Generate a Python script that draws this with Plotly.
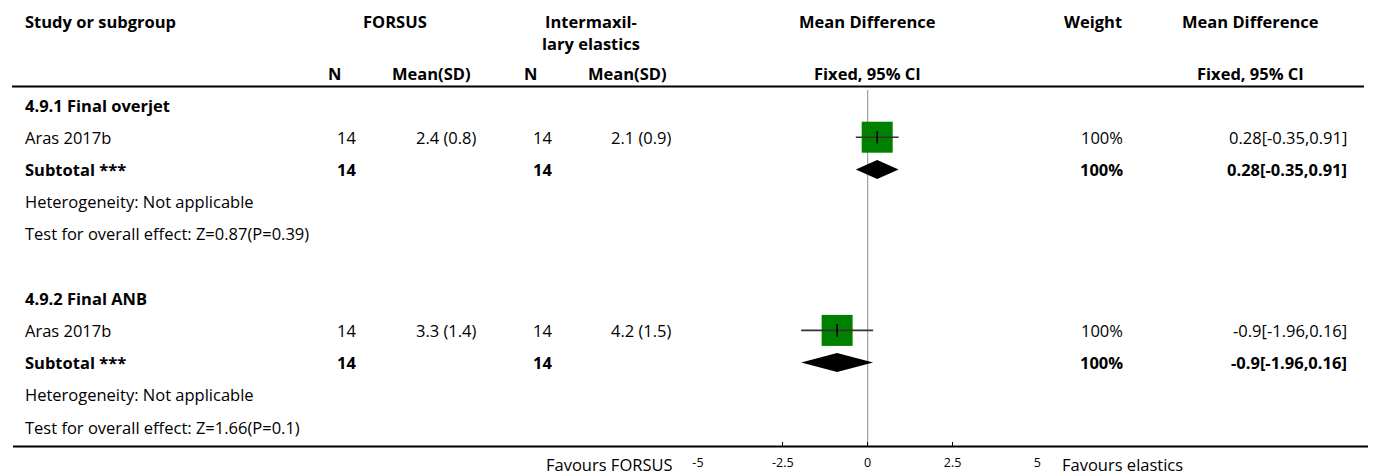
import plotly.graph_objects as go

# ---------------- data ----------------
group_titles = ["4.9.1 Final overjet", "4.9.2 Final ANB"]
study_names = ["Aras 2017b", "Aras 2017b"]
n_forsus = [14, 14]
mean_forsus = [2.4, 3.3]
sd_forsus = [0.8, 1.4]
n_elastics = [14, 14]
mean_elastics = [2.1, 4.2]
sd_elastics = [0.9, 1.5]
md = [0.28, -0.9]
ci_lo = [-0.35, -1.96]
ci_hi = [0.91, 0.16]
weights = [100, 100]
sub_n_forsus = [14, 14]
sub_n_elastics = [14, 14]
sub_md = [0.28, -0.9]
sub_lo = [-0.35, -1.96]
sub_hi = [0.91, 0.16]
sub_weight = [100, 100]
heterogeneity = ["Not applicable", "Not applicable"]
z_values = ["0.87", "1.66"]
p_values = ["0.39", "0.1"]
tick_vals = [-5, -2.5, 0, 2.5, 5]
tick_text = ["-5", "-2.5", "0", "2.5", "5"]
left_label = "Favours FORSUS"
right_label = "Favours elastics"

# ---------------- layout helpers ----------------
W, H = 1375, 476
ROW0, ROWH = 105.0, 32.2
FONT = "Open Sans"
FS = 16.5
GREEN = "#008000"


def row_of(py):
    return (py - ROW0) / ROWH


def px(x):
    return x / W


annotations = []


def txt(text, x, y, anchor="left", bold=False, size=FS, color="#000"):
    annotations.append(dict(
        text=f"<b>{text}</b>" if bold else text,
        x=px(x), y=y, xref="paper", yref="y",
        xanchor=anchor, yanchor="middle", showarrow=False,
        borderpad=0, borderwidth=0,
        font=dict(family=FONT, size=size, color=color),
    ))


LX = 19
# header
hy1, hy2, hy3 = row_of(21), row_of(43), row_of(73)
txt("Study or subgroup", LX, hy1, bold=True)
txt("FORSUS", 392, hy1, "center", bold=True)
txt("Intermaxil-", 589, hy1, "center", bold=True)
txt("lary elastics", 589, hy2, "center", bold=True)
txt("Mean Difference", 868, hy1, "center", bold=True)
txt("Weight", 1124, hy1, "right", bold=True)
txt("Mean Difference", 1254, hy1, "center", bold=True)
txt("N", 331, hy3, "center", bold=True)
txt("Mean(SD)", 429, hy3, "center", bold=True)
txt("N", 528, hy3, "center", bold=True)
txt("Mean(SD)", 626, hy3, "center", bold=True)
txt("Fixed, 95% CI", 868, hy3, "center", bold=True)
txt("Fixed, 95% CI", 1254, hy3, "center", bold=True)

study_rows, sub_rows = [], []
for g in range(len(group_titles)):
    base = g * 6
    study_rows.append(base + 1)
    sub_rows.append(base + 2)
    txt(group_titles[g], LX, base, bold=True)
    r = base + 1
    txt(study_names[g], LX, r)
    txt(str(n_forsus[g]), 353, r, "right")
    txt(f"{mean_forsus[g]} ({sd_forsus[g]})", 474, r, "right")
    txt(str(n_elastics[g]), 550, r, "right")
    txt(f"{mean_elastics[g]} ({sd_elastics[g]})", 671, r, "right")
    txt(f"{weights[g]}%", 1125, r, "right")
    txt(f"{md[g]}[{ci_lo[g]},{ci_hi[g]}]", 1351, r, "right")
    r = base + 2
    txt("Subtotal ***", LX, r, bold=True)
    txt(str(sub_n_forsus[g]), 353, r, "right", bold=True)
    txt(str(sub_n_elastics[g]), 550, r, "right", bold=True)
    txt(f"{sub_weight[g]}%", 1125, r, "right", bold=True)
    txt(f"{sub_md[g]}[{sub_lo[g]},{sub_hi[g]}]", 1351, r, "right", bold=True)
    txt(f"Heterogeneity: {heterogeneity[g]}", LX, base + 3)
    txt(f"Test for overall effect: Z={z_values[g]}(P={p_values[g]})", LX, base + 4)

axis_py = 446.5
txt(left_label, 672, row_of(464), "right", size=16.5)
txt(right_label, 1064, row_of(464), "left", size=16.5)

fig = go.Figure()

# squares (size by weight)
fig.add_trace(go.Scatter(
    x=md, y=study_rows, mode="markers",
    marker=dict(symbol="square", size=[w * 0.31 for w in weights], color=GREEN,
                opacity=1, line=dict(width=0)),
    hoverinfo="skip", showlegend=False))

# CI lines
cx, cy = [], []
for lo, hi, r in zip(ci_lo, ci_hi, study_rows):
    cx += [lo, hi, None]
    cy += [r, r, None]
fig.add_trace(go.Scatter(x=cx, y=cy, mode="lines",
                         line=dict(color="#333333", width=1.6),
                         hoverinfo="skip", showlegend=False))

# point tick
fig.add_trace(go.Scatter(
    x=md, y=study_rows, mode="markers",
    marker=dict(symbol="line-ns", size=9, opacity=1,
                line=dict(width=1.6, color="#000")),
    hoverinfo="skip", showlegend=False))

# diamonds
dh = 9.5 / ROWH
for m, lo, hi, r in zip(sub_md, sub_lo, sub_hi, sub_rows):
    fig.add_trace(go.Scatter(
        x=[lo, m, hi, m, lo], y=[r, r - dh, r, r + dh, r],
        mode="lines", fill="toself", fillcolor="#000",
        line=dict(width=0, color="#000"),
        hoverinfo="skip", showlegend=False))

shapes = [
    dict(type="line", xref="paper", yref="y", x0=px(6), x1=px(1368),
         y0=row_of(86.5), y1=row_of(86.5), line=dict(color="#000", width=2)),
    dict(type="line", xref="paper", yref="y", x0=px(7), x1=px(1372),
         y0=row_of(axis_py), y1=row_of(axis_py), line=dict(color="#000", width=2)),
    dict(type="line", xref="x", yref="y", x0=0, x1=0,
         y0=row_of(90), y1=row_of(axis_py), line=dict(color="#8c8c8c", width=1),
         layer="below"),
]

fig.update_layout(
    width=W, height=H,
    margin=dict(l=0, r=0, t=0, b=0),
    paper_bgcolor="white", plot_bgcolor="white",
    showlegend=False,
    annotations=annotations, shapes=shapes,
    xaxis=dict(domain=[697 / W, 1039 / W], range=[-5, 5],
               tickvals=tick_vals, ticktext=tick_text,
               ticks="inside", ticklen=5, tickwidth=1, tickcolor="#000",
               showline=False, showgrid=False, zeroline=False,
               anchor="free", position=1 - axis_py / H,
               ticklabelstandoff=7,
               tickfont=dict(family=FONT, size=12.5, color="#000"),
               fixedrange=True),
    yaxis=dict(domain=[0, 1], range=[row_of(H), row_of(0)],
               visible=False, fixedrange=True),
)

fig.write_html(
    "out.html",
    config={"displayModeBar": False},
    post_script="document.body.style.margin='0';document.body.style.padding='0';"
                "document.body.style.overflow='hidden';",
)
